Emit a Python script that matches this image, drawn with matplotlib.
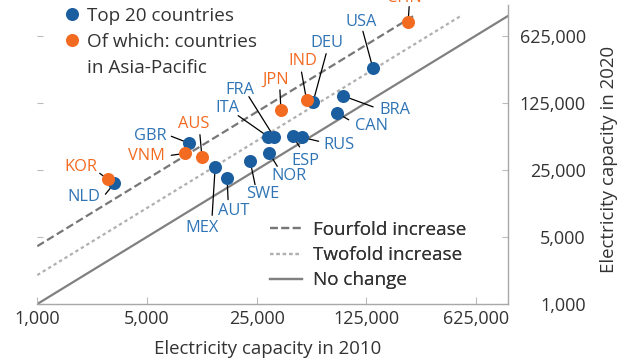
import matplotlib
matplotlib.use("Agg")
import matplotlib.pyplot as plt
from matplotlib.lines import Line2D
from matplotlib.ticker import FixedLocator, NullLocator

plt.rcParams['font.family'] = ['Open Sans', 'DejaVu Sans']
plt.rcParams['lines.scale_dashes'] = False

# ---- data (MW) ----
countries = ["CHN", "USA", "BRA", "DEU", "IND", "CAN", "JPN", "RUS", "ESP", "FRA",
             "ITA", "NOR", "SWE", "MEX", "GBR", "AUT", "AUS", "VNM", "KOR", "NLD"]
cap_2010 = [231000, 137700, 89000, 57300, 52000, 81000, 35700, 48400, 42400, 32200,
            29600, 30100, 22700, 13600, 9300, 16200, 11200, 8770, 2810, 3100]
cap_2020 = [873000, 285000, 147000, 128000, 133000, 98000, 105000, 54500, 56300, 55300,
            55300, 37100, 31100, 26500, 47200, 20700, 34200, 37100, 19900, 18100]
asia_pacific = ["CHN", "IND", "JPN", "AUS", "VNM", "KOR"]

tick_values = [1000, 5000, 25000, 125000, 625000]
tick_labels = ["1,000", "5,000", "25,000", "125,000", "625,000"]

ref_ratios = [4, 2, 1]
ref_labels = ["Fourfold increase", "Twofold increase", "No change"]
group_labels = ["Top 20 countries", "Of which: countries", "in Asia-Pacific"]

# ---- styles ----
BLUE = "#1b5e9f"
BLUE_TXT = "#2f74b5"
ORANGE = "#f36b21"
ORANGE_TXT = "#f36b21"
TXT = "#333333"
ref_styles = [dict(color="#777777", ls=(0, (5.6, 2.6))),
              dict(color="#b0b0b0", ls=(0, (2.4, 2.2))),
              dict(color="#808080", ls="-")]

# label placement: text offset (dx, dy) and leader start (lx, ly) in pixels from the dot
label_pos = {
    "GBR": (-39, 7, -18, 7), "VNM": (-39, -3, -14, -2), "AUS": (-8, 33, -2, 22),
    "KOR": (-27, 12, -8, 6), "NLD": (-31, -14, -9, -11), "MEX": (-13, -61, -3, -48),
    "AUT": (7, -33, 1, -22), "SWE": (13, -33, 5, -24), "NOR": (20, -23, 8, -13),
    "ESP": (13, -25, 7, -11), "RUS": (37, -8, 17, -4), "CAN": (35, -13, 12, -7),
    "BRA": (52, -14, 30, -11), "USA": (-12, 46, -10, 37), "DEU": (14, 59, 13, 48),
    "IND": (-4, 39, -5, 28), "JPN": (-5, 30, -1, 20), "FRA": (-34, 47, -25, 40),
    "ITA": (-41, 29, -30, 21), "CHN": (-4, 24, 1, 15),
}

W, H = 621, 362
fig = plt.figure(figsize=(W / 100, H / 100), dpi=100)
ax = fig.add_axes([37.3 / W, 1 - 304 / H, (508 - 37.3) / W, (304 - 5) / H])
ax.set_xscale("log")
ax.set_yscale("log")
ax.set_xlim(1000, 1e6)
ax.set_ylim(1000, 1.3e6)

# reference lines
for r, lab, st in zip(ref_ratios, ref_labels, ref_styles):
    xs = [1000, 1e6 / r]
    ys = [r * v for v in xs]
    ax.plot(xs, ys, lw=1.6, label=lab, zorder=1, **st)

# leader lines and labels
for c, x, y in zip(countries, cap_2010, cap_2020):
    tdx, tdy, ldx, ldy = label_pos[c]
    col = ORANGE_TXT if c in asia_pacific else BLUE_TXT
    ax.annotate("", xy=(x, y), xytext=(ldx, ldy), textcoords="offset pixels",
                arrowprops=dict(arrowstyle="-", color="black", lw=0.9,
                                shrinkA=0, shrinkB=0), zorder=2)
    ax.annotate(c, xy=(x, y), xytext=(tdx, tdy), textcoords="offset pixels",
                ha="center", va="center", fontsize=11.8, color=col, zorder=4,
                annotation_clip=False)

# dots
bx = [x for c, x in zip(countries, cap_2010) if c not in asia_pacific]
by = [y for c, y in zip(countries, cap_2020) if c not in asia_pacific]
ox = [x for c, x in zip(countries, cap_2010) if c in asia_pacific]
oy = [y for c, y in zip(countries, cap_2020) if c in asia_pacific]
ax.scatter(bx, by, s=88, color=BLUE, linewidths=0, zorder=3)
ax.scatter(ox, oy, s=88, color=ORANGE, linewidths=0, zorder=3.5)

# axes styling
for s in ["left", "top"]:
    ax.spines[s].set_visible(False)
for s in ["bottom", "right"]:
    ax.spines[s].set_color("#a8a8a8")
    ax.spines[s].set_linewidth(1.0)
ax.xaxis.set_major_locator(FixedLocator(tick_values))
ax.yaxis.set_major_locator(FixedLocator(tick_values))
ax.xaxis.set_minor_locator(NullLocator())
ax.yaxis.set_minor_locator(NullLocator())
ax.set_xticklabels(tick_labels)
ax.set_yticklabels(tick_labels)
ax.tick_params(axis="x", direction="in", length=5, width=0.8, color="#bbbbbb",
               labelsize=13.0, labelcolor=TXT, pad=4)
ax.tick_params(axis="y", direction="in", length=4.5, width=0.8, color="#bbbbbb",
               left=True, right=True, labelleft=False, labelright=True,
               labelsize=13.0, labelcolor=TXT, pad=56)
for lab in ax.get_yticklabels():
    lab.set_horizontalalignment("right")

ax.set_xlabel("Electricity capacity in 2010", fontsize=13.4, color=TXT)
ax.xaxis.set_label_coords(0.49, -0.12)
ax.yaxis.set_label_position("right")
ax.set_ylabel("Electricity capacity in 2020", fontsize=13.4, color=TXT)
ax.yaxis.set_label_coords(1.195, 0.483)

# legends
leg2 = ax.legend(loc="upper left", bbox_to_anchor=(270 / W, 1 - 221 / H),
                 bbox_transform=fig.transFigure, frameon=False, fontsize=13.6,
                 handlelength=1.7, handletextpad=0.6, labelspacing=0.38,
                 borderpad=0, borderaxespad=0, labelcolor=TXT)
ax.add_artist(leg2)
h1 = [Line2D([], [], marker="o", ls="", color=BLUE, markersize=9.4, markeredgewidth=0),
      Line2D([], [], marker="o", ls="", color=ORANGE, markersize=9.4, markeredgewidth=0),
      Line2D([], [], ls="", marker="")]
fig.legend(h1, group_labels,
           loc="upper left", bbox_to_anchor=(63 / W, 1 - 7 / H),
           bbox_transform=fig.transFigure, frameon=False, fontsize=13.6,
           handlelength=1.0, handletextpad=0.28, labelspacing=0.42,
           borderpad=0, borderaxespad=0, labelcolor=TXT)

fig.savefig("out.png", dpi=100)
